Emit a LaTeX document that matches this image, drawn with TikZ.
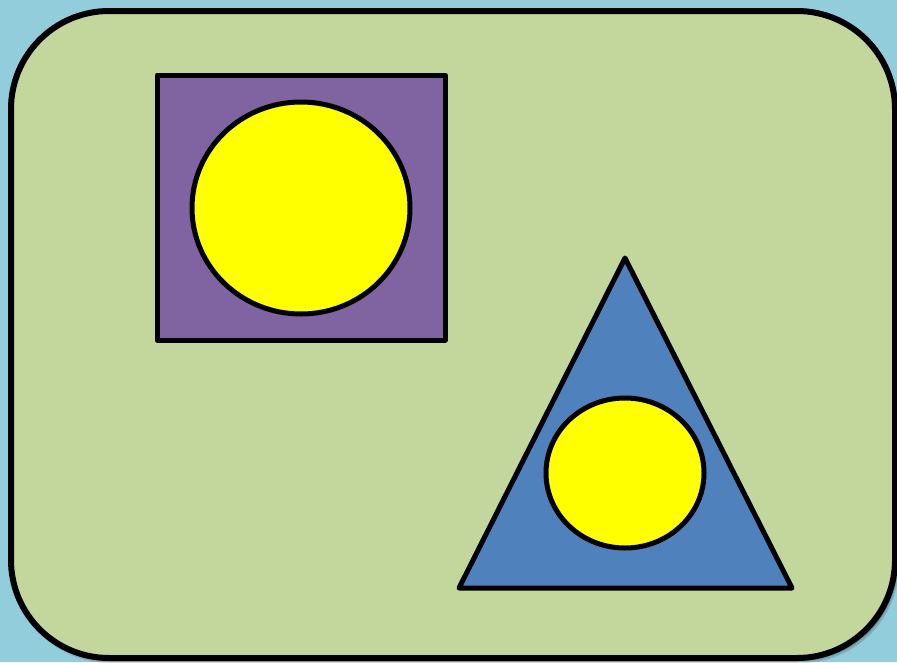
\documentclass[tikz,border=0pt]{standalone}
\definecolor{bgblue}{HTML}{92CDDC}
\definecolor{panelgreen}{HTML}{C3D69B}
\definecolor{sqpurple}{HTML}{8064A2}
\definecolor{triblue}{HTML}{4F81BD}
\definecolor{dotyellow}{HTML}{FFFF00}
\tikzset{shapeline/.style={draw=black,line width=5pt,line join=round}}
\begin{document}
\begin{tikzpicture}[x=1pt,y=-1pt]
\fill[bgblue] (0,0) rectangle (897,662);
\useasboundingbox (0,0) rectangle (897,662);
\fill[black,opacity=0.15] (12,14) [rounded corners=98pt] rectangle (899,663);
\fill[black,opacity=0.15] (12,13) [rounded corners=98pt] rectangle (898,661);
\filldraw[fill=panelgreen,draw=black,line width=6pt,rounded corners=98pt] (11,11) rectangle (895,658);
\filldraw[shapeline,fill=sqpurple] (157,75) rectangle (445,340);
\filldraw[shapeline,fill=dotyellow] (301,208) ellipse [x radius=109, y radius=106];
\filldraw[shapeline,fill=triblue] (625,258) -- (792,588) -- (459,588) -- cycle;
\filldraw[shapeline,fill=dotyellow] (625,473) ellipse [x radius=79, y radius=75];
\end{tikzpicture}
\end{document}
